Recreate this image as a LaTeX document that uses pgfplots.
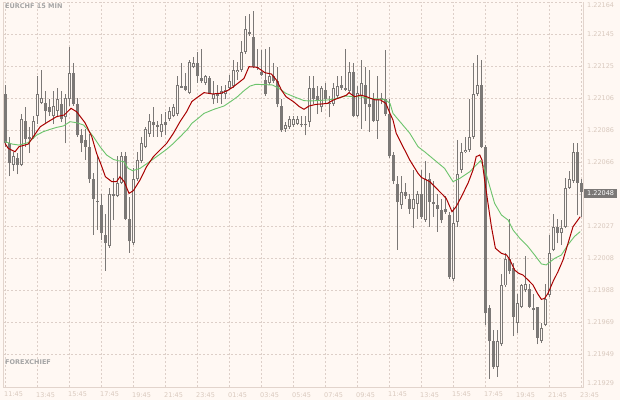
\documentclass[border=0pt]{standalone}
\usepackage{pgfplots}
\pgfplotsset{compat=1.18}
\usepackage{pgfplotstable}
\usepackage{fontspec}
\setmainfont{DejaVu Sans}

\definecolor{bg}{HTML}{FFF8F3}
\definecolor{gridc}{HTML}{DDCFC8}
\definecolor{axisc}{HTML}{E2D4CC}
\definecolor{tickc}{HTML}{D9C9BE}
\definecolor{candle}{HTML}{7B7876}
\definecolor{mared}{HTML}{A80000}
\definecolor{magreen}{HTML}{6CC46C}
\definecolor{logoc}{HTML}{A5A5A5}

% prices in points above 1.21900 (1 point = 0.00001)
% bullish candles (drawn hollow)
\pgfplotstableread{
x o h l c
2 165 173 161 170
4 165 196 164 193
7 182 195 181 192
8 195 219 190 208
9 203 223 202 206
12 195 210 190 201
13 198 212 194 205
15 194 208 178 206
16 205 237 201 221
26 115 151 114 147
28 146 170 145 154
29 154 173 153 170
32 117 163 116 156
33 156 173 155 168
34 167 182 166 178
35 176 188 175 187
36 184 196 182 192
39 185 196 182 190
41 193 200 192 198
42 195 202 194 200
43 196 219 195 214
46 209 229 208 228
47 225 231 224 227
50 215 220 214 219
52 205 216 202 208
54 208 213 202 210
55 208 214 205 211
56 212 220 211 216
57 213 229 212 223
58 222 228 217 223
59 223 241 222 234
60 234 256 233 248
66 215 237 214 219
70 187 191 185 189
71 188 195 187 193
72 189 195 188 193
73 190 195 189 193
76 191 219 188 212
79 200 213 197 212
82 202 215 201 212
83 207 219 206 213
86 210 228 209 222
88 195 213 194 209
89 207 229 187 215
93 192 219 181 205
99 140 158 138 148
102 138 162 126 144
103 141 149 132 147
105 131 167 130 156
112 95 139 94 129
113 130 180 127 159
114 162 178 160 173
115 173 182 172 174
116 174 205 173 182
117 182 227 181 208
118 208 232 207 214
123 41 64 35 57
124 55 98 54 91
125 91 111 90 107
128 68 86 62 80
129 78 92 77 91
130 88 109 87 92
134 57 68 56 65
135 67 92 66 83
136 85 122 84 111
137 113 135 112 127
139 123 131 116 126
140 127 157 126 151
141 151 161 150 156
142 155 178 154 173
}\up

% bearish candles (drawn filled)
\pgfplotstableread{
x o h l c
0 208 214 176 178
1 178 182 158 166
3 169 172 159 165
5 192 200 176 181
6 182 188 172 181
10 203 210 190 198
11 200 205 195 197
14 202 210 191 193
17 221 227 201 202
18 202 206 182 183
19 183 187 173 178
20 180 187 168 176
21 176 184 154 156
22 156 160 122 144
23 143 170 125 142
24 140 147 119 123
25 122 135 100 117
27 147 157 131 146
30 170 173 131 132
31 132 145 111 118
37 191 200 182 189
38 189 192 182 188
40 191 197 183 189
44 213 227 212 212
45 213 221 210 211
48 227 234 215 219
49 218 236 215 216
51 218 219 208 209
53 208 214 203 207
61 246 257 244 245
62 243 259 224 225
63 225 236 223 224
64 222 235 219 220
65 217 236 207 208
67 219 227 215 216
68 216 225 200 202
69 201 205 185 186
74 190 195 188 189
75 190 195 183 189
77 212 219 202 205
78 207 213 196 204
80 211 215 203 205
81 203 207 194 202
84 214 219 211 212
85 212 236 210 211
87 222 227 194 195
90 214 225 192 202
91 202 223 185 200
92 205 209 191 192
94 206 209 202 205
95 205 235 195 196
96 196 205 169 170
97 171 173 153 155
98 153 158 113 142
100 148 154 144 146
101 144 147 135 138
104 147 162 132 133
106 156 160 127 142
107 142 155 133 141
108 140 147 124 138
109 137 144 129 131
110 138 146 135 136
111 134 136 95 96
119 214 229 175 176
120 176 177 67 74
121 77 79 34 57
122 57 64 40 41
126 107 132 98 100
127 102 105 60 72
131 89 92 77 78
132 77 86 64 76
133 78 78 55 59
138 127 132 117 123
143 173 178 134 154
144 154 156 133 148
}\down

\pgfplotsset{
  candlepart/.style={draw=none, no markers, forget plot,
    error bars/.cd, y dir=plus, y explicit, error mark=none,
    error bar style={solid, line cap=butt, #1}},
}

\begin{document}
\begin{tikzpicture}[x=1pt,y=1pt]
\useasboundingbox (0,0) rectangle (620,400);
\fill[bg] (0,0) rectangle (620,400);
\begin{axis}[
  at={(3pt,13pt)}, anchor=south west,
  scale only axis, width=580pt, height=385pt,
  xmin=-0.5, xmax=144.5, ymin=28.84, ymax=264.6,
  axis line style={draw=none},
  clip=false,
  grid=major,
  major grid style={gridc, line width=1pt, dash pattern=on 2pt off 2pt},
  major tick length=0pt,
  tick style={draw=none},
  xtick={0,8,...,144},
  xticklabels={11:45,13:45,15:45,17:45,19:45,21:45,23:45,01:45,03:45,05:45,07:45,09:45,11:45,13:45,15:45,17:45,19:45,21:45,23:45},
  ytick={264.0,245,225.4,205.8,186.2,166.6,147.0,127.4,107.8,88.2,68.6,49.0},
  yticklabels={,1.22145,1.22125,1.22106,1.22086,1.22066,,1.22027,1.22008,1.21988,1.21969,1.21949},
  yticklabel pos=right,
  ticklabel style={font=\fontsize{6.5}{7}\selectfont, text=tickc, inner sep=0pt},
  xticklabel style={anchor=north west, xshift=-1pt, yshift=-5pt},
  yticklabel style={anchor=west, xshift=4pt},
]
% frame: left, bottom, right
\draw[axisc, line width=1pt] (rel axis cs:0,1) -- (rel axis cs:0,0) -- (rel axis cs:1,0) -- (rel axis cs:1,1);

% wicks, low to high
\addplot[candlepart={line width=1pt, draw=candle}]
  table[x=x, y=l, y error expr=\thisrow{h}-\thisrow{l}] {\down};
\addplot[candlepart={line width=1pt, draw=candle}]
  table[x=x, y=l, y error expr=\thisrow{h}-\thisrow{l}] {\up};
% filled bodies, close up to open
\addplot[candlepart={line width=3pt, draw=candle}]
  table[x=x, y=c, y error expr=\thisrow{o}-\thisrow{c}] {\down};
% hollow bodies: outline, then the inside in the background colour
\addplot[candlepart={line width=3pt, draw=candle}]
  table[x=x, y=o, y error expr=\thisrow{c}-\thisrow{o}] {\up};
\addplot[candlepart={line width=1pt, draw=bg}]
  table[x=x, y expr=\thisrow{o}+0.61, y error expr=\thisrow{c}-\thisrow{o}-1.22] {\up};

% slow MA (green)
\addplot[magreen, line width=0.9pt] coordinates {
(0,179.1) (1.8,177.6) (3.5,177) (5.8,178.5) (7.9,183.1) (9.6,185.2) (11.25,186.6)
(12.9,187.8) (14.6,188.7) (16.25,191.3) (17.9,190.7) (19.6,189.3) (20.8,186.2)
(22.1,182.1) (23.75,176) (25.4,170.9) (27.1,168.2) (28.3,167.4) (29.75,166.8)
(30.8,162.7) (31.9,161.3) (33.75,162.7) (35.8,166.2) (37.9,169.9) (40.4,174.4)
(42.1,178) (44.2,183.1) (45.8,187.2) (46.7,190.3) (47.75,192.3) (49.75,196.4)
(52.25,198.9) (54.75,200.9) (56.4,203.6) (58.1,206.6) (59.75,210.3) (61.25,213.1)
(62.7,214.2) (66.8,213.8) (68.5,211.7) (70.2,208.7) (72.25,206.6) (74.75,204.2)
(76.4,204) (80.6,204.6) (82.25,205.2) (83.9,206.2) (85.2,207) (87.25,206.6)
(88.9,206.6) (91.4,205.4) (93.9,205.2) (95.2,204.6) (96.25,202.5) (97,196.4)
(99.1,190.3) (101.2,184.2) (103.25,176) (104.9,172.9) (107.4,167.8) (109.9,162.7)
(112,154.6) (113.7,156.6) (116.2,160.7) (117.8,164.8) (118.9,167.4) (119.9,162.7)
(121.2,151.5) (122.4,141.3) (124.1,134.2) (125.75,131.1) (127,125) (128.7,119.9)
(130.75,114.8) (132.4,109.7) (134.1,104.2) (135.3,103.6) (137.4,107.6) (139.1,109.7)
(140.75,116) (142.4,121.1) (143.8,124)};
% fast MA (red)
\addplot[mared, line width=1pt] coordinates {
(0,178) (0.8,175) (2.5,172.9) (3.5,176) (5.8,177.6) (6.8,181.1) (8.8,188.2)
(10.8,191.3) (12.9,194.4) (14.8,195.4) (16.5,199.5) (17.9,197.4) (20,190.7)
(21.7,182.1) (22.9,171.9) (23.9,165.8) (25.1,157.6) (26.7,154.6) (27.9,154.6)
(28.75,157.6) (29.8,154.6) (31,147.4) (32.1,149.1) (33.75,155.6) (35.4,163.8)
(37.1,169.9) (38.75,174) (40.4,178) (42.1,184.2) (43.75,191.3) (45.4,197.4)
(46.7,203.6) (47.75,205.6) (49.75,209.1) (51.9,208.3) (53.9,208.7) (55.6,210.3)
(57.1,212.7) (59.75,217.8) (61,225) (63,224.6) (64,223) (65,221.3) (66.6,220.5)
(68,216.4) (69.1,210.7) (70.25,206.6) (72.1,203.6) (73.6,200.5) (74.75,198.9)
(76,200.9) (77.7,201.9) (78.9,202.1) (80.6,202.5) (82.1,204.6) (83.9,206.2)
(85.4,207.6) (86,209.1) (87.4,206.6) (88.9,207.6) (90.4,206.6) (91.4,205.6)
(92.7,204.6) (93.9,204.6) (95.2,202.5) (96.25,196.4) (97,192.3) (97.8,184.2)
(99.5,176) (101.2,167.8) (103.25,159.7) (104.1,157.2) (106.2,154.6) (108.25,149.5)
(110.3,144.4) (111.75,136.2) (112.8,139.3) (114.1,145.4) (115.75,153.6) (117,161.7)
(117.8,169.9) (118.7,170.9) (119.25,167.8) (119.9,155.6) (120.75,141.3) (121.6,127)
(122.6,113.8) (124.1,110.7) (125.4,109.7) (126.25,106.6) (127.4,100.5) (128.4,98.5)
(129.5,97.4) (130.75,94.4) (132,91.3) (133.1,86.2) (134.1,82.5) (134.9,83.1)
(135.75,86.2) (137,93.4) (138.25,99.5) (139.5,106.6) (140.75,116.8) (142,127)
(143.8,133.1)};

% texts
\node[anchor=north west, inner sep=0pt, font=\bfseries\fontsize{6.5}{7}\selectfont, text=logoc]
  at (rel axis cs:0,1) [xshift=2pt, yshift=-1.5pt] {EURCHF 15 MIN};
\node[anchor=south west, inner sep=0pt, font=\bfseries\fontsize{6.5}{7}\selectfont, text=logoc]
  at (rel axis cs:0,0) [xshift=2pt, yshift=22pt] {FOREXCHIEF};
\node[anchor=north west, inner sep=0pt, font=\fontsize{6.5}{7}\selectfont, text=tickc]
  at (rel axis cs:1,1) [xshift=4pt, yshift=0pt] {1.22164};
\node[anchor=south west, inner sep=0pt, font=\fontsize{6.5}{7}\selectfont, text=tickc]
  at (rel axis cs:1,0) [xshift=4pt, yshift=1pt] {1.21929};
\node[anchor=west, fill=candle, text=white, inner xsep=3pt, inner ysep=2pt,
  font=\fontsize{6.5}{7}\selectfont] at (axis cs:144.5,147.4) [xshift=1pt] {1.22048};
\end{axis}
\end{tikzpicture}
\end{document}
